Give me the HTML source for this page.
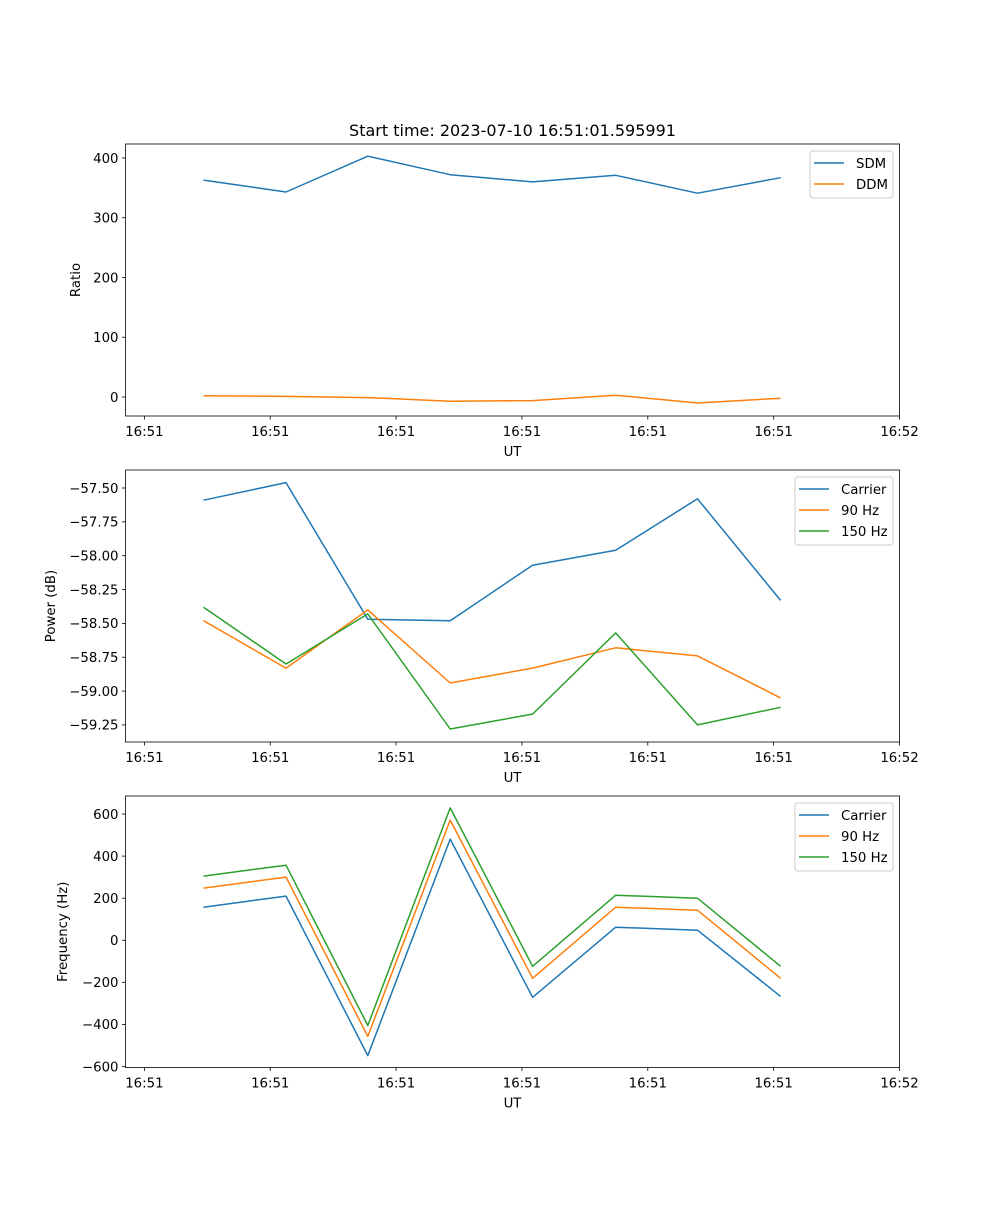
<!DOCTYPE html>
<html><head><meta charset="utf-8"><style>
body{margin:0;background:#fff}
svg text{font-family:"DejaVu Sans","Liberation Sans",sans-serif;fill:#000}
</style></head><body>
<svg id="fig" width="1000" height="1200" xmlns="http://www.w3.org/2000/svg">
<rect width="1000" height="1200" fill="#fff"/>
<text x="512.5" y="136" font-size="16" text-anchor="middle">Start time: 2023-07-10 16:51:01.595991</text>
</svg>
<script>
// time offsets (s) of samples
const times = [0.94, 2.25, 3.55, 4.86, 6.17, 7.49, 8.79, 10.11];
const xTickVals = [0, 2, 4, 6, 8, 10, 12];
const xTickLabels = ["16:51","16:51","16:51","16:51","16:51","16:51","16:52"];
// panel 1
const sdm = [363, 343, 403, 372, 360, 371, 341, 367];
const ddm = [2, 1, -1, -7, -6, 3, -10, -2];
const ratioTicks = [0, 100, 200, 300, 400];
// panel 2
const powCarrier = [-57.59, -57.46, -58.47, -58.48, -58.07, -57.96, -57.58, -58.33];
const pow90 = [-58.48, -58.83, -58.40, -58.94, -58.83, -58.68, -58.74, -59.05];
const pow150 = [-58.38, -58.80, -58.43, -59.28, -59.17, -58.57, -59.25, -59.12];
const powTicks = [-57.5, -57.75, -58.0, -58.25, -58.5, -58.75, -59.0, -59.25];
// panel 3
const freqCarrier = [157, 210, -548, 481, -271, 62, 48, -267];
const freq90 = [248, 300, -457, 571, -181, 157, 143, -181];
const freq150 = [305, 357, -405, 629, -124, 214, 200, -124];
const freqTicks = [-600, -400, -200, 0, 200, 400, 600];

const NS = "http://www.w3.org/2000/svg";
const svg = document.getElementById("fig");
const L = 125.5, R = 899.5, XMIN = -0.30, XMAX = 12.0;
function xs(v){ return L + (v - XMIN) / (XMAX - XMIN) * (R - L); }
function mk(tag, attrs, parent){ const e = document.createElementNS(NS, tag); for (const k in attrs) e.setAttribute(k, attrs[k]); (parent || svg).appendChild(e); return e; }

function panel(name, top, bottom, ymin, ymax, yticks, fmt, ylabel, series, legend){
  const ys = v => bottom - (v - ymin) / (ymax - ymin) * (bottom - top);
  const g = mk("g", {});
  
  
  series.forEach(s => {
    const pts = s.vals.map((v, i) => xs(times[i]).toFixed(1) + "," + ys(v).toFixed(1)).join(" ");
    const pl = mk("polyline", {points: pts, fill: "none", stroke: s.color, "stroke-width": 1.5, "stroke-linejoin": "round"}, g);
    
    
  });
  const fr = mk("rect", {x: L, y: top, width: R - L, height: bottom - top, fill: "none", stroke: "#000", "stroke-width": 0.8}, g);
  
  
  xTickVals.forEach((v, i) => {
    const x = xs(v);
    mk("line", {x1: x, x2: x, y1: bottom, y2: bottom + 3.5, stroke: "#000", "stroke-width": 0.8}, g);
    const t = mk("text", {x: x, y: bottom + 20, "font-size": 13.3, "text-anchor": "middle"}, g);
    t.textContent = xTickLabels[i];
    
    
  });
  yticks.forEach(v => {
    const y = ys(v);
    mk("line", {x1: L - 3.5, x2: L, y1: y, y2: y, stroke: "#000", "stroke-width": 0.8}, g);
    const t = mk("text", {x: L - 7, y: y + 4.8, "font-size": 13.3, "text-anchor": "end"}, g);
    t.textContent = fmt(v);
    
    
  });
  const xl = mk("text", {x: (L + R) / 2, y: bottom + 40, "font-size": 13.3, "text-anchor": "middle"}, g);
  xl.textContent = "UT";
  
  
  const cy = (top + bottom) / 2;
  const yl = mk("text", {x: 0, y: 0, "font-size": 13.3, "text-anchor": "middle", transform: "translate(" + legend.ylx + "," + cy + ") rotate(-90)"}, g);
  yl.textContent = ylabel;
  
  
  const lg = mk("g", {}, g);
  
  
  mk("rect", {x: legend.x, y: top + 7, width: R - 6.5 - legend.x, height: series.length * 21 + 5, rx: 3, fill: "#fff", "fill-opacity": 0.8, stroke: "#ccc", "stroke-width": 1}, lg);
  series.forEach((s, i) => {
    const y = top + 19 + i * 21;
    mk("line", {x1: legend.x + 4, x2: legend.x + 34, y1: y, y2: y, stroke: s.color, "stroke-width": 1.5}, lg);
    const t = mk("text", {x: legend.x + 46, y: y + 4.8, "font-size": 13.3}, lg);
    t.textContent = s.label;
    
    
  });
}
const minus = s => s.replace("-", "\u2212");
panel("ratio-panel", 144, 416, -31.8, 423.4, ratioTicks, v => minus(String(v)), "Ratio",
  [{key:"sdm", label:"SDM", color:"#1f77b4", vals:sdm},{key:"ddm", label:"DDM", color:"#ff7f0e", vals:ddm}],
  {x: 810, ylx: 80});
panel("power-panel", 470, 742, -59.376, -57.367, powTicks, v => minus(v.toFixed(2)), "Power (dB)",
  [{key:"carrier", label:"Carrier", color:"#1f77b4", vals:powCarrier},{key:"90hz", label:"90 Hz", color:"#ff7f0e", vals:pow90},{key:"150hz", label:"150 Hz", color:"#2ca02c", vals:pow150}],
  {x: 795, ylx: 55});
panel("frequency-panel", 796, 1067.5, -604.8, 685.7, freqTicks, v => minus(String(v)), "Frequency (Hz)",
  [{key:"carrier", label:"Carrier", color:"#1f77b4", vals:freqCarrier},{key:"90hz", label:"90 Hz", color:"#ff7f0e", vals:freq90},{key:"150hz", label:"150 Hz", color:"#2ca02c", vals:freq150}],
  {x: 795, ylx: 67});
</script>
</body></html>
